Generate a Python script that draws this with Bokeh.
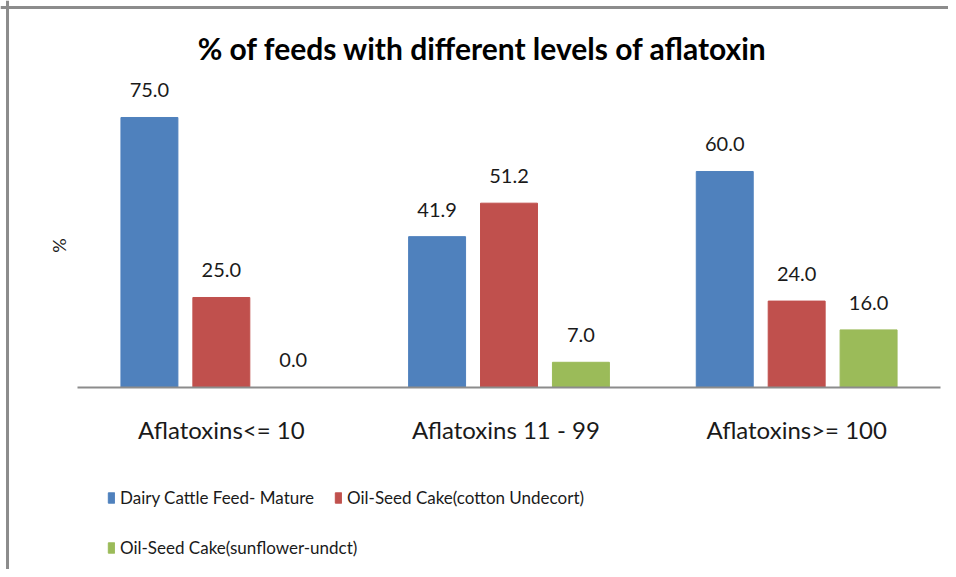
import math
from bokeh.plotting import figure
from bokeh.models import ColumnDataSource, Range1d, Legend, LegendItem, FixedTicker, Span
from bokeh.core.properties import value
from bokeh.embed import file_html
from bokeh.resources import INLINE

categories = ["Aflatoxins<= 10", "Aflatoxins 11  - 99", "Aflatoxins>= 100"]
series_names = ["Dairy Cattle Feed- Mature", "Oil-Seed Cake(cotton Undecort)", "Oil-Seed Cake(sunflower-undct)"]
dairy = [75.0, 41.9, 60.0]
cotton = [25.0, 51.2, 24.0]
sunflower = [0.0, 7.0, 16.0]
colors = ["#4F81BD", "#C0504D", "#9BBB59"]
title_text = "% of feeds with different levels of aflatoxin"
y_label = "%"

FONT = "Lato"
TXT = "#1a1a1a"

n = len(categories)
centers = [i + 0.5 for i in range(n)]

src = ColumnDataSource(dict(
    c=centers,
    dairy=dairy, cotton=cotton, sunflower=sunflower,
    dairy_t=[f"{v:.1f}" for v in dairy],
    cotton_t=[f"{v:.1f}" for v in cotton],
    sunflower_t=[f"{v:.1f}" for v in sunflower],
))

p = figure(x_range=Range1d(-0.2677, n + 0.0278), y_range=Range1d(-50.56, 107.5),
           width=948, height=569,
           min_border_left=0, min_border_right=0, min_border_top=0, min_border_bottom=0,
           output_backend="svg", toolbar_location=None)
p.outline_line_color = None
p.xgrid.visible = False
p.ygrid.visible = False
p.yaxis.visible = False

xa = p.xaxis[0]
xa.fixed_location = 0
xa.ticker = FixedTicker(ticks=centers)
xa.major_label_overrides = {c: lab for c, lab in zip(centers, categories)}
xa.bounds = (0, n)
xa.axis_line_color = "#8C8C8C"
xa.axis_line_width = 2
xa.major_tick_line_color = None
xa.minor_tick_line_color = None
xa.major_tick_out = 0
xa.major_tick_in = 0
xa.major_label_standoff = 28
xa.major_label_text_font = FONT
xa.major_label_text_font_size = "24px"
xa.major_label_text_color = TXT

offsets = [-0.25, 0.0, 0.25]
fields = ["dairy", "cotton", "sunflower"]
renderers = []
for f, off, c in zip(fields, offsets, colors):
    xs = [ci + off for ci in centers]
    src.data[f + "_x"] = xs
    r = p.vbar(x=f + "_x", top=f, width=0.198, source=src,
               fill_color=c, line_color=c)
    renderers.append(r)
    p.text(x=f + "_x", y=f, text=f + "_t", source=src,
           text_align="center", text_baseline="middle", y_offset=-27,
           text_font=value(FONT), text_font_size="20px", text_color=TXT)

p.text(x=[1.408], y=[94.2], text=[title_text], text_align="center", text_baseline="middle",
       text_font=value(FONT), text_font_size="30px", text_font_style="bold", text_color="#000000")
p.text(x=[-0.066], y=[39.4], text=[y_label], angle=math.pi / 2, text_align="center",
       text_baseline="middle", text_font=value(FONT), text_font_size="18px", text_color=TXT)

# chart-area border (top and left edges visible in the reference)
p.add_layout(Span(location=105.56, dimension="width", line_color="#8C8C8C", line_width=3))
p.add_layout(Span(location=-0.2433, dimension="height", line_color="#8C8C8C", line_width=3))

legend_style = dict(margin=0, padding=0, label_text_font=FONT, label_text_font_size="17px",
                    label_text_color=TXT, glyph_width=8, glyph_height=13, label_standoff=5,
                    label_height=40, border_line_color=None, background_fill_alpha=0)
legend_row1 = Legend(items=[LegendItem(label=series_names[i], renderers=[renderers[i]]) for i in (0, 1)],
                     orientation="horizontal", location=(107, 52), spacing=20, **legend_style)
legend_row2 = Legend(items=[LegendItem(label=series_names[2], renderers=[renderers[2]])],
                     orientation="horizontal", location=(107, 2), spacing=0, **legend_style)
p.add_layout(legend_row1)
p.add_layout(legend_row2)

open("out.html", "w").write(file_html(p, INLINE))
